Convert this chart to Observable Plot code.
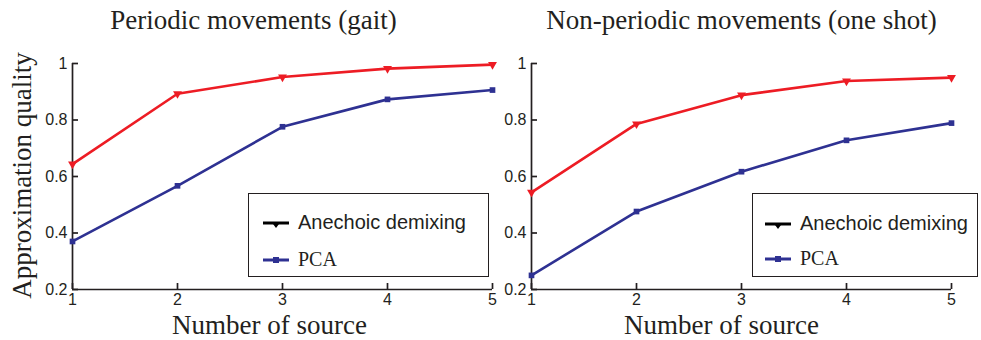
<!DOCTYPE html>
<html>
<head>
<meta charset="utf-8">
<script src="https://cdn.jsdelivr.net/npm/d3@7"></script>
<script src="https://cdn.jsdelivr.net/npm/@observablehq/plot@0.6"></script>
<style>
  body { margin: 0; background: #fff; }
  #chart { position: relative; width: 981px; height: 340px; overflow: hidden; background: #fff; }
  .panel { position: absolute; top: 0; }
  .panel svg { overflow: visible; }
  .legend { position: absolute; border: 1.5px solid #231f20; background: #fff; box-sizing: border-box; }
  .legend .lab { position: absolute; white-space: nowrap; color: #231f20; font-size: 20px; line-height: 20px; }
  .sans { font-family: "Liberation Sans", Arial, sans-serif; }
  .serif { font-family: "Liberation Serif", "Times New Roman", serif; }
</style>
</head>
<body>
<div id="chart"></div>
<script>
// ---- data ----
const sources = [1, 2, 3, 4, 5];
const periodicAnechoic = [0.644, 0.893, 0.952, 0.982, 0.996];
const periodicPCA = [0.370, 0.567, 0.776, 0.873, 0.906];
const nonPeriodicAnechoic = [0.544, 0.786, 0.888, 0.938, 0.950];
const nonPeriodicPCA = [0.250, 0.476, 0.617, 0.728, 0.789];
const yTicks = [0.2, 0.4, 0.6, 0.8, 1];
const seriesNames = ["Anechoic demixing", "PCA"];
const panelTitles = ["Periodic movements (gait)", "Non-periodic movements (one shot)"];
const xLabel = "Number of source";
const yLabel = "Approximation quality";

// ---- style ----
const RED = "#ed1c24", BLUE = "#2e3192", INK = "#231f20";
const SERIF = "Liberation Serif, Times New Roman, serif";
const SANS = "Liberation Sans, Arial, sans-serif";

function panel({anechoic, pca, title, left, width, marginLeft, marginRight, titleDx, xLabelDx, showYLabel}) {
  const rows = (vals, name) => sources.map((s, i) => ({source: s, value: vals[i], series: name}));
  const A = rows(anechoic, seriesNames[0]);
  const P = rows(pca, seriesNames[1]);
  const tickLenX = 6 / 105;   // inward tick length in x units
  const tickLenY = 0.8 * 6 / 226; // inward tick length in y units
  const marks = [
    Plot.ruleX([1], {y1: 0.2, y2: 1, stroke: INK, strokeWidth: 1.7}),
    Plot.ruleY([0.2], {x1: 1, x2: 5, stroke: INK, strokeWidth: 1.7}),
    Plot.ruleY(yTicks, {y: d => d, x1: 1, x2: 1 + tickLenX, stroke: INK, strokeWidth: 1.7}),
    Plot.ruleX(sources, {x: d => d, y1: 0.2, y2: 0.2 + tickLenY, stroke: INK, strokeWidth: 1.7}),
    // tick labels
    Plot.text(sources, {x: d => d, frameAnchor: "bottom", dy: 4, lineAnchor: "top", text: d => String(d), fontSize: 16, fontFamily: SANS, fill: INK}),
    Plot.text(yTicks, {y: d => d, frameAnchor: "left", dx: -5, textAnchor: "end", text: d => d === 1 ? "1" : d.toFixed(1), fontSize: 16, fontFamily: SANS, fill: INK}),
    Plot.line(A, {x: "source", y: "value", stroke: RED, strokeWidth: 2.6}),
    Plot.line(P, {x: "source", y: "value", stroke: BLUE, strokeWidth: 2.6}),
    Plot.dot(A, {x: "source", y: "value", symbol: "triangle", rotate: 180, r: 3.3, fill: RED, stroke: "none"}),
    Plot.dot(P, {x: "source", y: "value", symbol: "square", r: 3.2, fill: BLUE, stroke: "none"}),
    Plot.text([title], {frameAnchor: "top", dx: titleDx, dy: -35, lineAnchor: "bottom", fontFamily: SERIF, fontSize: 27, fill: INK}),
    Plot.text([xLabel], {frameAnchor: "bottom", dx: xLabelDx, dy: 44, lineAnchor: "bottom", fontFamily: SERIF, fontSize: 27, fill: INK})
  ];
  if (showYLabel) {
    marks.push(Plot.text([yLabel], {frameAnchor: "left", dx: -42, dy: -1, rotate: -90, lineAnchor: "bottom", textAnchor: "middle", fontFamily: SERIF, fontSize: 27, fill: INK}));
  }
  const svg = Plot.plot({
    width, height: 340,
    marginTop: 63, marginBottom: 51, marginLeft, marginRight,
    x: {domain: [1, 5], axis: null},
    y: {domain: [0.2, 1], axis: null},
    style: {background: "transparent", overflow: "visible", fontFamily: SANS, color: INK},
    marks
  });
  const wrap = document.createElement("div");
  wrap.className = "panel";
  wrap.style.left = left + "px";
  wrap.appendChild(svg);
  return wrap;
}

function legend({left, top, width, height, sampleX, textX, rowYs}) {
  const box = document.createElement("div");
  box.className = "legend";
  Object.assign(box.style, {left: left + "px", top: top + "px", width: width + "px", height: height + "px"});
  const samples = [
    {color: "#000", shape: "tri", font: "sans"},
    {color: BLUE, shape: "sq", font: "serif"}
  ];
  seriesNames.forEach((name, i) => {
    const s = samples[i];
    const ns = "http://www.w3.org/2000/svg";
    const svg = document.createElementNS(ns, "svg");
    svg.setAttribute("width", 27); svg.setAttribute("height", 12);
    Object.assign(svg.style, {position: "absolute", left: sampleX + "px", top: (rowYs[i] - 6) + "px"});
    const ln = document.createElementNS(ns, "line");
    ln.setAttribute("x1", 0); ln.setAttribute("x2", 26); ln.setAttribute("y1", 6); ln.setAttribute("y2", 6);
    ln.setAttribute("stroke", s.color); ln.setAttribute("stroke-width", 3);
    svg.appendChild(ln);
    const mk = document.createElementNS(ns, "path");
    mk.setAttribute("d", s.shape === "tri" ? "M8.5,5 L17.5,5 L13,11 Z" : "M10,3 L16,3 L16,9 L10,9 Z");
    mk.setAttribute("fill", s.color);
    svg.appendChild(mk);
    box.appendChild(svg);
    const lab = document.createElement("div");
    lab.className = "lab " + s.font;
    lab.textContent = name;
    Object.assign(lab.style, {left: textX + "px", top: (rowYs[i] - 11) + "px"});
    box.appendChild(lab);
  });
  return box;
}

const chart = document.getElementById("chart");
chart.appendChild(panel({anechoic: nonPeriodicAnechoic, pca: nonPeriodicPCA, title: panelTitles[1],
  left: 491, width: 490, marginLeft: 40, marginRight: 30, titleDx: 0, xLabelDx: -20, showYLabel: false}));
chart.appendChild(panel({anechoic: periodicAnechoic, pca: periodicPCA, title: panelTitles[0],
  left: 0, width: 500, marginLeft: 72, marginRight: 8, titleDx: -29, xLabelDx: -13, showYLabel: true}));
chart.appendChild(legend({left: 248, top: 193, width: 241, height: 84, sampleX: 14, textX: 49, rowYs: [29, 66]}));
chart.appendChild(legend({left: 752, top: 193, width: 226, height: 84, sampleX: 12, textX: 47, rowYs: [30, 65]}));
</script>
</body>
</html>
